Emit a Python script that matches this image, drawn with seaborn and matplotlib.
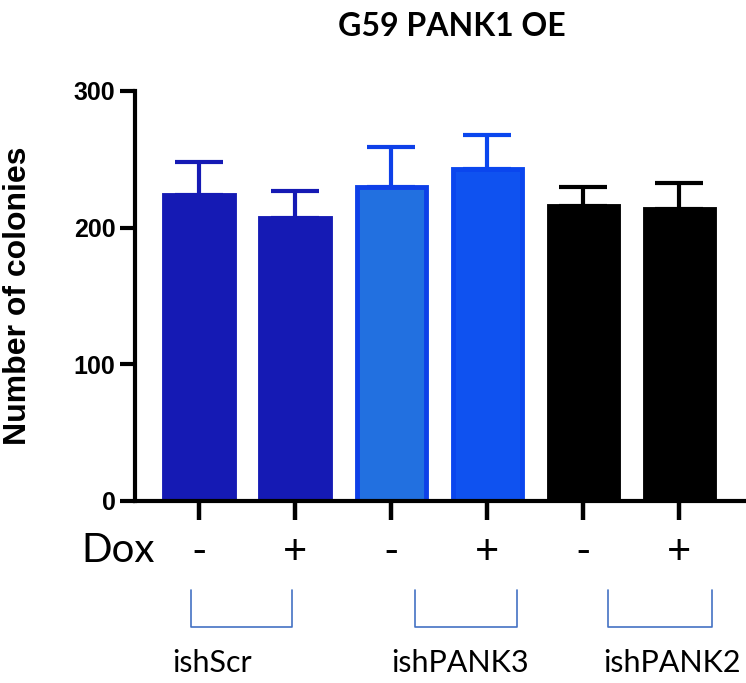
import pandas as pd
import numpy as np
import matplotlib
matplotlib.use("Agg")
import matplotlib.pyplot as plt
import seaborn as sns

sns.set_style("ticks")
plt.rcParams['font.family'] = ['Liberation Sans', 'DejaVu Sans']
plt.rcParams['text.color'] = 'black'
plt.rcParams['axes.labelcolor'] = 'black'
plt.rcParams['xtick.color'] = 'black'
plt.rcParams['ytick.color'] = 'black'
plt.rcParams['axes.edgecolor'] = 'black'

# data
conditions = ['ishScr -', 'ishScr +', 'ishPANK3 -', 'ishPANK3 +', 'ishPANK2 -', 'ishPANK2 +']
dox_labels = ['-', '+', '-', '+', '-', '+']
colonies = [224, 207, 230, 243, 216, 214]
sem = [24, 20, 29, 25, 14, 19]
fill_colors = ['#151AB4', '#151AB4', '#2270E0', '#0F52F0', '#000000', '#000000']
edge_colors = ['#151AB4', '#151AB4', '#0E40E8', '#0A46EE', '#000000', '#000000']
groups = ['ishScr', 'ishPANK3', 'ishPANK2']
group_centers = [0.14, 2.72, 4.92]
bracket_spans = [(-0.08, 0.97), (2.25, 3.31), (4.26, 5.34)]

df = pd.DataFrame({'condition': conditions, 'colonies': colonies})

fig = plt.figure(figsize=(7.46, 6.83), dpi=100)
ax = fig.add_axes([0.181, 0.2665, 0.816, 0.6003])

sns.barplot(data=df, x='condition', y='colonies', hue='condition',
            palette=fill_colors, width=0.72, legend=False, ax=ax,
            saturation=1, errorbar=None)

for patch, ec in zip(ax.patches, edge_colors):
    patch.set_edgecolor(ec)
    patch.set_linewidth(3.5)
    patch.set_zorder(2)

xs = [p.get_x() + p.get_width() / 2 for p in ax.patches]
for x, m, e, c in zip(xs, colonies, sem, edge_colors):
    ax.errorbar([x], [m], yerr=[[0], [e]], fmt='none', ecolor=c,
                elinewidth=3, capsize=17, capthick=3, zorder=1)

ax.set_ylim(0, 300)
ax.set_xlim(-0.665, 5.67)
ax.set_yticks([0, 100, 200, 300])
ax.set_xticks(range(len(conditions)))
ax.set_xticklabels(dox_labels, family=['Lato', 'DejaVu Sans'], fontsize=30)
for lab in ax.get_yticklabels():
    lab.set_fontweight('bold')
    lab.set_fontsize(18)
ax.tick_params(axis='y', length=11, width=3, pad=3)
ax.tick_params(axis='x', length=14, width=3.2, pad=9)
ax.set_xlabel('')
ax.set_ylabel('Number of colonies', fontsize=23, fontweight='bold')
ax.yaxis.set_label_coords(-0.168, 0.5)
for side in ['top', 'right']:
    ax.spines[side].set_visible(False)
for side in ['left', 'bottom']:
    ax.spines[side].set_linewidth(3)

ax.set_title('G59 PANK1 OE', family=['Lato', 'DejaVu Sans'], fontweight='bold',
             fontsize=23, pad=0, y=1.135, x=0.52)

fig.text(81 / 746, 1 - 551 / 683, 'Dox', family=['Lato', 'DejaVu Sans'],
         fontsize=29, va='center', ha='left')

trans = ax.get_xaxis_transform()
for name, cx, (x0, x1) in zip(groups, group_centers, bracket_spans):
    ax.plot([x0, x0, x1, x1], [-0.217, -0.307, -0.307, -0.217], color='#4472C4',
            lw=1.2, transform=trans, clip_on=False)
    ax.text(cx, -0.395, name, transform=trans, ha='center', va='center',
            family=['Lato', 'DejaVu Sans'], fontsize=22)

fig.savefig('out.png', dpi=100)
